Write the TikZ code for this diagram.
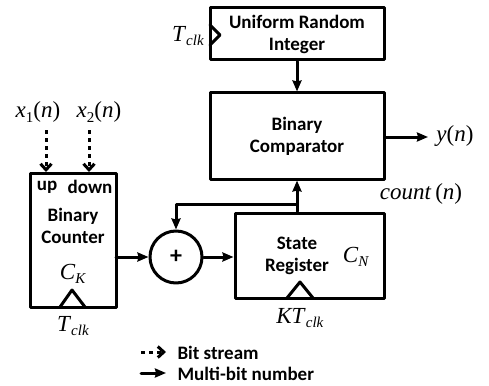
\documentclass[tikz,border=0pt]{standalone}
\usepackage{fontspec}
\setmainfont{Carlito}
\newfontfamily\tnr{Liberation Serif}
\usetikzlibrary{arrows.meta}
\newcommand\lab[1]{{\tnr\fontsize{23}{25}\selectfont #1}}
\newcommand\sub[1]{\raisebox{-0.45ex}{\fontsize{15}{15}\selectfont #1}}
\begin{document}
\begin{tikzpicture}[line cap=round,line join=round,x=1pt,y=-1pt, line width=3pt,
    >={Stealth[length=11pt,width=9pt,inset=1pt]},
    blk/.style={draw, rectangle, inner sep=0pt, align=center, font=\fontsize{19}{22}\selectfont\bfseries},
    txt/.style={inner sep=0pt, align=center, font=\fontsize{19}{22}\selectfont\bfseries},
    bit/.style={dash pattern=on 4pt off 4pt, line cap=butt, -{Straight Barb[length=6pt,width=11pt]}},
    clk/.style={line width=3pt}]
    \useasboundingbox (0,0) rectangle (489,385);

    % blocks
    \node[blk, minimum width=174pt, minimum height=52pt] (uri) at (297,34) {Uniform Random\\Integer};
    \node[blk, minimum width=174pt, minimum height=86pt] (cmp) at (297,136) {Binary\\Comparator};
    \node[blk, minimum width=86pt, minimum height=134pt] (cnt) at (73,240) {};
    \node[blk, minimum width=149pt, minimum height=85pt] (reg) at (309.5,255.5) {};
    \node[draw, circle, minimum size=52pt, inner sep=0pt, font=\fontsize{24}{24}\selectfont\bfseries] (add) at (176,257) {+};

    % texts in blocks
    \node[txt] (up) at (47,187) {up};
    \node[txt] (down) at (90,187) {down};
    \node[txt] (cntname) at (73,226) {Binary\\Counter};
    \node (ck) at (73,274) {\lab{\textit{C}\sub{\textit{K}}}};
    \node[txt] (regname) at (297,256) {State\\Register};
    \node (cn) at (356,257) {\lab{\textit{C}\sub{\textit{N}}}};

    % clocks
    \draw[clk] (210,25) -- (220,35) -- (210,45);
    \draw[clk] (60,307) -- (72,290) -- (85,307);
    \draw[clk] (287,298) -- (300,282) -- (313,298);
    \node (tclka) at (188,36) {\lab{\textit{T}\sub{\textit{clk}}}};
    \node (tclkb) at (73,326) {\lab{\textit{T}\sub{\textit{clk}}}};
    \node (ktclk) at (300,318) {\lab{\textit{KT}\sub{\textit{clk}}}};

    % inputs
    \node (x1) at (38,112) {\lab{\textit{x}\sub{1}(\textit{n})}};
    \node (x2) at (99,112) {\lab{\textit{x}\sub{2}(\textit{n})}};
    \draw[bit] (46,130) -- (46,172);
    \draw[bit] (89,130) -- (89,172);

    % connections
    \draw[->] (uri) -- (cmp);
    \draw[->] (cmp.east |- 0,137) -- (428,137);
    \node (yn) at (455,136) {\lab{\textit{y}(\textit{n})}};
    \draw[->] (reg.north -| cmp) -- (cmp.south);
    \coordinate (br) at (297,204);
    \draw[->] (br) -| (add.north);
    \node (cntlab) at (421,194) {\lab{\textit{count}\,(\textit{n})}};
    \draw[->] (116,257) -- (add.west);
    \draw[->] (add.east) -- (reg.west |- add);

    % legend
    \draw[bit] (141,352) -- (166,352);
    \node[txt, anchor=west] (lbit) at (176,353) {Bit stream};
    \draw[->] (141,373) -- (166,373);
    \node[txt, anchor=west] (lmul) at (176,374) {Multi-bit number};
\end{tikzpicture}
\end{document}
